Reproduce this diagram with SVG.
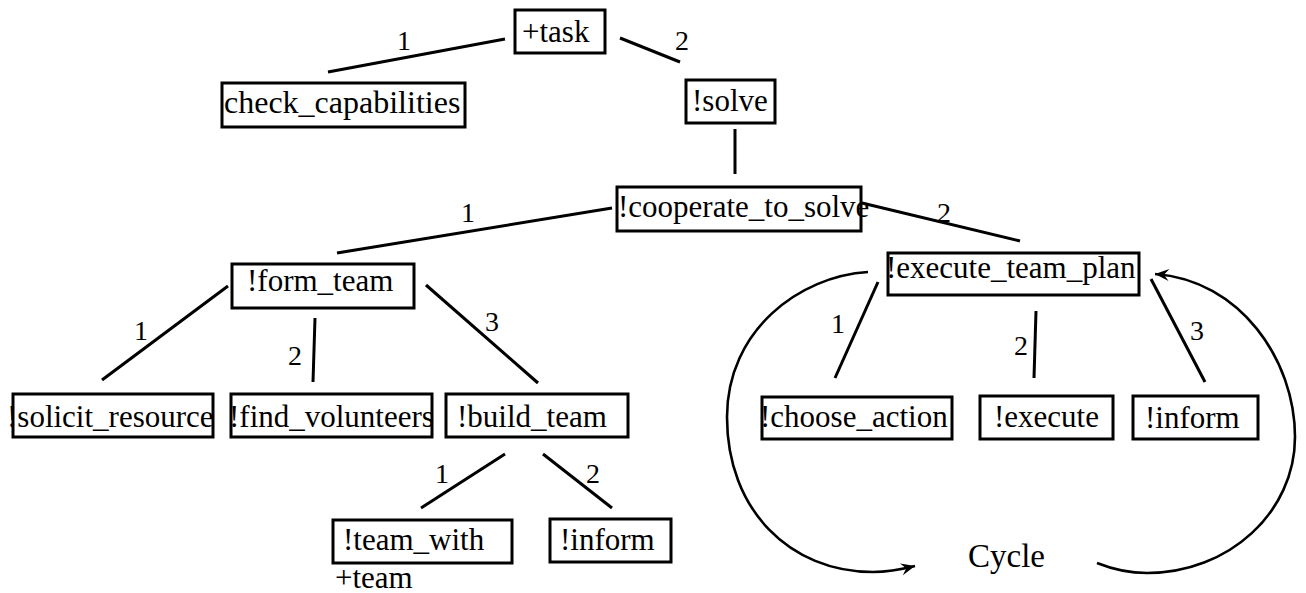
<svg xmlns="http://www.w3.org/2000/svg" width="1306" height="593" viewBox="0 0 1306 593">
<style>
  .box { fill: #ffffff; stroke: #000000; stroke-width: 3; }
  .t { font-family: "Liberation Serif", "Times New Roman", serif; font-size: 31px; fill: #000000; }
  .lbl { font-family: "Liberation Serif", "Times New Roman", serif; font-size: 28px; fill: #000000; text-anchor: middle; }
  .edge { stroke: #000000; stroke-width: 3; fill: none; stroke-linecap: butt; }
  .arc { stroke: #000000; stroke-width: 2.6; fill: none; }
</style>
<defs>
  <marker id="arr" viewBox="-15 -7 16 14" refX="0" refY="0" markerWidth="16" markerHeight="14" markerUnits="userSpaceOnUse" orient="auto">
    <path d="M0,0 L-14,-6 L-9,0 L-14,6 Z" fill="#000000"/>
  </marker>
</defs>
<rect width="1306" height="593" fill="#ffffff"/>

<g id="connectors">
  <line class="edge" x1="505" y1="39" x2="328" y2="72"/>
  <text class="lbl" x="404" y="50">1</text>
  <line class="edge" x1="620" y1="38" x2="680" y2="62"/>
  <text class="lbl" x="682" y="50">2</text>
  <line class="edge" x1="735" y1="129" x2="735" y2="174"/>
  <line class="edge" x1="612" y1="208" x2="337" y2="253"/>
  <text class="lbl" x="468" y="222">1</text>
  <line class="edge" x1="862" y1="203" x2="1020" y2="241"/>
  <text class="lbl" x="944" y="222">2</text>
  <line class="edge" x1="228" y1="286" x2="102" y2="380"/>
  <text class="lbl" x="141" y="340">1</text>
  <line class="edge" x1="315" y1="318" x2="313" y2="382"/>
  <text class="lbl" x="295" y="365">2</text>
  <line class="edge" x1="426" y1="285" x2="538" y2="383"/>
  <text class="lbl" x="492" y="331">3</text>
  <line class="edge" x1="505" y1="454" x2="421" y2="508"/>
  <text class="lbl" x="442" y="483">1</text>
  <line class="edge" x1="543" y1="454" x2="612" y2="508"/>
  <text class="lbl" x="593" y="483">2</text>
  <line class="edge" x1="878" y1="282" x2="835" y2="378"/>
  <text class="lbl" x="838" y="333">1</text>
  <line class="edge" x1="1036" y1="311" x2="1034" y2="378"/>
  <text class="lbl" x="1021" y="355">2</text>
  <line class="edge" x1="1151" y1="279" x2="1205" y2="382"/>
  <text class="lbl" x="1197" y="340">3</text>
  <path class="arc" d="M868,272 C800,276 727,330 727,417 C727,510 790,572 873,572 C890,572 903,569 915,566" marker-end="url(#arr)"/>
  <path class="arc" d="M1097,563 C1112,569 1130,573 1147,573 C1229,573 1295,512 1295,437 C1295,360 1240,280 1155,274" marker-end="url(#arr)"/>
</g>

<g id="task"><rect class="box" x="515" y="10" width="90" height="43"/><text class="t" x="522" y="42">+task</text></g>
<g id="check_capabilities"><rect class="box" x="222" y="83" width="243" height="44"/><text class="t" x="224" y="113" style="font-size:32px">check_capabilities</text></g>
<g id="solve"><rect class="box" x="686" y="80" width="89" height="43"/><text class="t" x="692" y="111">!solve</text></g>
<g id="cooperate_to_solve"><rect class="box" x="617" y="187" width="244" height="44"/><text class="t" x="618" y="217">!cooperate_to_solve</text></g>
<g id="form_team"><rect class="box" x="232" y="264" width="182" height="44"/><text class="t" x="247" y="291">!form_team</text></g>
<g id="execute_team_plan"><rect class="box" x="888" y="253" width="251" height="42"/><text class="t" x="886" y="278">!execute_team_plan</text></g>
<g id="solicit_resource"><rect class="box" x="13" y="394" width="200" height="43"/><text class="t" x="7" y="427">!solicit_resource</text></g>
<g id="find_volunteers"><rect class="box" x="231" y="394" width="201" height="43"/><text class="t" x="229" y="427">!find_volunteers</text></g>
<g id="build_team"><rect class="box" x="446" y="394" width="182" height="43"/><text class="t" x="457" y="427">!build_team</text></g>
<g id="choose_action"><rect class="box" x="762" y="397" width="190" height="42"/><text class="t" x="760" y="427">!choose_action</text></g>
<g id="execute"><rect class="box" x="980" y="396" width="133" height="43"/><text class="t" x="994" y="427">!execute</text></g>
<g id="inform_exec"><rect class="box" x="1133" y="396" width="125" height="43"/><text class="t" x="1145" y="428">!inform</text></g>
<g id="team_with"><rect class="box" x="333" y="520" width="179" height="43"/><text class="t" x="343" y="550">!team_with</text><text class="t" x="335" y="588">+team</text></g>
<g id="inform_build"><rect class="box" x="550" y="519" width="121" height="43"/><text class="t" x="560" y="550">!inform</text></g>
<g id="cycle_label"><text class="t" x="968" y="567" style="font-size:33px">Cycle</text></g>
</svg>
